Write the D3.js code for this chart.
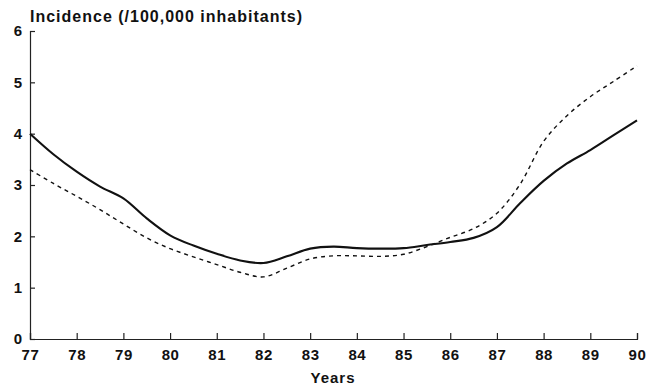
<!DOCTYPE html>
<html>
<head>
<meta charset="utf-8">
<script src="https://cdn.jsdelivr.net/npm/d3@7"></script>
<style>
  body { margin: 0; background: #fff; }
  svg text { font-family: "Liberation Sans", Arial, sans-serif; font-weight: bold; fill: #111; }
</style>
</head>
<body>
<div id="chart"></div>
<script>
// half-year steps
const years = [77, 77.5, 78, 78.5, 79, 79.5, 80, 80.5, 81, 81.5, 82, 82.5, 83, 83.5,
               84, 84.5, 85, 85.5, 86, 86.5, 87, 87.5, 88, 88.5, 89, 89.5, 90];
const solidSeries = [4.00, 3.60, 3.26, 2.97, 2.74, 2.35, 2.02, 1.82, 1.66, 1.53, 1.48, 1.61, 1.76, 1.80,
                     1.77, 1.76, 1.77, 1.83, 1.89, 1.97, 2.18, 2.65, 3.08, 3.42, 3.68, 3.97, 4.26];
const dashedSeries = [3.30, 3.03, 2.78, 2.52, 2.24, 1.97, 1.76, 1.60, 1.45, 1.30, 1.21, 1.38, 1.56, 1.62,
                      1.62, 1.61, 1.65, 1.80, 1.98, 2.15, 2.45, 3.02, 3.85, 4.35, 4.72, 5.02, 5.32];
const xTicks = [77, 78, 79, 80, 81, 82, 83, 84, 85, 86, 87, 88, 89, 90];
const yTicks = [0, 1, 2, 3, 4, 5, 6];

const width = 658, height = 387;
const margin = {left: 30, right: 21, top: 31, bottom: 48};

const svg = d3.select("#chart").append("svg")
  .attr("width", width)
  .attr("height", height);

const x = d3.scaleLinear().domain([77, 90]).range([margin.left, width - margin.right]);
const y = d3.scaleLinear().domain([0, 6]).range([height - margin.bottom, margin.top]);

// axes, ticks point inward
const xAxis = svg.append("g")
  .attr("transform", "translate(0," + y(0) + ")")
  .call(d3.axisBottom(x).tickValues(xTicks).tickFormat(d3.format("d"))
    .tickSize(-6).tickSizeOuter(-6).tickPadding(10));
xAxis.selectAll("text").style("font-size", "15px").style("letter-spacing", "0.6px");

const yAxis = svg.append("g")
  .attr("transform", "translate(" + x(77) + ",0)")
  .call(d3.axisLeft(y).tickValues(yTicks).tickFormat(d3.format("d"))
    .tickSize(-5).tickSizeOuter(-5).tickPadding(8));
yAxis.selectAll("text").style("font-size", "15px");

svg.selectAll(".domain, .tick line").attr("stroke", "#222").attr("stroke-width", 1.2);

const line = d3.line()
  .x((d, i) => x(years[i]))
  .y(d => y(d))
  .curve(d3.curveCatmullRom.alpha(0.5));

svg.append("path")
  .datum(dashedSeries)
  .attr("fill", "none")
  .attr("stroke", "#111")
  .attr("stroke-width", 1.4)
  .attr("stroke-dasharray", "4,4")
  .attr("d", line);

svg.append("path")
  .datum(solidSeries)
  .attr("fill", "none")
  .attr("stroke", "#111")
  .attr("stroke-width", 2.1)
  .attr("d", line);

svg.append("text")
  .attr("x", 30)
  .attr("y", 22)
  .style("font-size", "16px")
  .style("letter-spacing", "1px")
  .text("Incidence (/100,000 inhabitants)");

svg.append("text")
  .attr("x", 333)
  .attr("y", 383)
  .attr("text-anchor", "middle")
  .style("font-size", "15px")
  .style("letter-spacing", "1px")
  .text("Years");
</script>
</body>
</html>
